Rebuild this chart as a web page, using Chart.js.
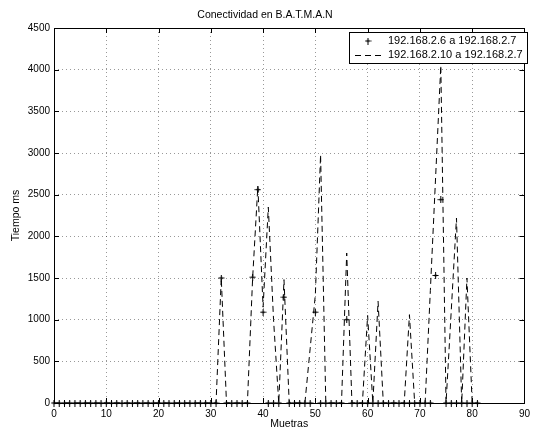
<!DOCTYPE html>
<html><head><meta charset="utf-8">
<script src="https://cdn.jsdelivr.net/npm/chart.js@4/dist/chart.umd.min.js"></script>
<style>html,body{margin:0;padding:0;background:#fff}#w{width:535px;height:428px;position:relative}</style>
</head><body><div id="w"><canvas id="c"></canvas></div>
<script>
// ---- data ----
const title = 'Conectividad en B.A.T.M.A.N';
const xLabel = 'Muetras';
const yLabel = 'Tiempo ms';
const seriesNames = ['192.168.2.6 a 192.168.2.7', '192.168.2.10 a 192.168.2.7'];
const samples = [0,1,2,3,4,5,6,7,8,9,10,11,12,13,14,15,16,17,18,19,20,21,22,23,24,25,26,27,28,29,
  30,31,32,33,34,35,36,37,38,39,40,41,42,43,44,45,46,47,48,49,50,51,52,53,54,55,56,57,58,59,
  60,61,62,63,64,65,66,67,68,69,70,71,72,73,74,75,76,77,78,79,80,81];
const link26 = [0,0,0,0,0,0,0,0,0,0,
  0,0,0,0,0,0,0,0,0,0,
  0,0,0,0,0,0,0,0,0,0,
  0,0,1500,0,0,0,0,0,1510,2560,
  1090,0,0,0,1270,0,0,0,0,0,
  1090,0,0,0,0,0,1000,0,0,0,
  0,0,0,0,0,0,0,0,0,0,
  0,0,0,1530,2440,0,0,0,0,0,
  0,0];
const link210 = [0,0,0,0,0,0,0,0,0,0,
  0,0,0,0,0,0,0,0,0,0,
  0,0,0,0,0,0,0,0,0,0,
  0,0,1500,0,0,0,0,0,1500,2600,
  1150,2350,1000,0,1480,0,0,0,0,650,
  1300,2980,0,0,0,0,1800,0,0,0,
  1050,0,1220,0,0,0,0,0,1060,0,
  0,0,1350,2700,4050,0,1110,2220,0,1500,
  0,0];
const xTicks = [0,10,20,30,40,50,60,70,80,90];
const yTicks = [0,500,1000,1500,2000,2500,3000,3500,4000,4500];

// ---- styling ----
const FONT = 'Liberation Sans, Arial, Helvetica, sans-serif';

function makeMarker() {
  const c = document.createElement('canvas');
  c.width = 7; c.height = 7;
  const g = c.getContext('2d');
  g.fillStyle = '#000'; g.strokeStyle = '#000';
  g.lineWidth = 1;
  g.beginPath(); g.moveTo(3.5, 0); g.lineTo(3.5, 7); g.moveTo(0.5, 3.5); g.lineTo(6.5, 3.5); g.stroke();
  g.beginPath(); g.moveTo(3.5, 1.8); g.lineTo(5.2, 3.5); g.lineTo(3.5, 5.2); g.lineTo(1.8, 3.5); g.closePath(); g.fill();
  return c;
}
const marker = makeMarker();

const frameTicks = {
  id: 'frameTicks',
  afterDraw(chart) {
    const {ctx, chartArea: a, scales: {x, y}} = chart;
    ctx.save();
    ctx.strokeStyle = '#000'; ctx.lineWidth = 1;
    const L = 5;
    ctx.beginPath();
    xTicks.forEach(v => {
      const px = Math.round(x.getPixelForValue(v)) + 0.5;
      ctx.moveTo(px, a.bottom); ctx.lineTo(px, a.bottom - L);
      ctx.moveTo(px, a.top); ctx.lineTo(px, a.top + L);
    });
    yTicks.forEach(v => {
      const py = Math.round(y.getPixelForValue(v)) + 0.5;
      ctx.moveTo(a.left, py); ctx.lineTo(a.left + L, py);
      ctx.moveTo(a.right, py); ctx.lineTo(a.right - L, py);
    });
    ctx.stroke();
    ctx.strokeRect(Math.round(a.left) + 0.5, Math.round(a.top) + 0.5, Math.round(a.right - a.left), Math.round(a.bottom - a.top));
    // legend
    const bx = 349.5, by = 32.5, bw = 178, bh = 31;
    ctx.fillStyle = '#fff';
    ctx.fillRect(bx, by, bw, bh);
    ctx.strokeRect(bx, by, bw, bh);
    ctx.font = '11px ' + FONT;
    ctx.fillStyle = '#000';
    ctx.textBaseline = 'middle';
    ctx.textAlign = 'left';
    const r1 = 41, r2 = 55;
    ctx.drawImage(marker, 368 - 3.5, r1 - 3.5);
    ctx.fillText(chart.data.datasets[0].label, 388, r1);
    ctx.setLineDash([6, 4]);
    ctx.beginPath(); ctx.moveTo(355, r2 + 0.5); ctx.lineTo(384, r2 + 0.5); ctx.stroke();
    ctx.setLineDash([]);
    ctx.fillText(chart.data.datasets[1].label, 388, r2);
    ctx.restore();
  }
};

new Chart(document.getElementById('c'), {
  type: 'line',
  data: {
    datasets: [
      {
        label: seriesNames[0],
        data: samples.map((s, i) => ({x: s, y: link26[i]})),
        showLine: false,
        pointStyle: marker,
        pointRadius: 3.5,
        borderColor: '#000',
        backgroundColor: '#000',
        clip: false,
        order: 0
      },
      {
        label: seriesNames[1],
        data: samples.map((s, i) => ({x: s, y: link210[i]})),
        borderColor: '#000',
        borderWidth: 1,
        borderDash: [6, 4],
        pointRadius: 0,
        tension: 0,
        fill: false,
        order: 1
      }
    ]
  },
  options: {
    responsive: true,
    maintainAspectRatio: false,
    animation: false,
    devicePixelRatio: 1,
    layout: {padding: {left: 0, right: 5, top: 0, bottom: 0}},
    plugins: {
      legend: {display: false},
      tooltip: {enabled: false},
      title: {
        display: true, text: title, color: '#000',
        font: {family: FONT, size: 10.5, weight: 'normal'},
        padding: {top: 9, bottom: 6.4}
      }
    },
    scales: {
      x: {
        type: 'linear', min: 0, max: 90,
        afterBuildTicks: s => { s.ticks = xTicks.map(v => ({value: v})); },
        afterFit: s => { s.height = 25; },
        grid: {color: 'rgba(0,0,0,0.4)', drawTicks: false},
        border: {display: false, dash: [1, 3]},
        ticks: {color: '#000', font: {family: FONT, size: 10}, padding: 5, maxRotation: 0, autoSkip: false,
          callback: v => String(v)},
        title: {display: true, text: xLabel, color: '#000', font: {family: FONT, size: 10.5}, padding: {top: 0, bottom: -2}}
      },
      y: {
        type: 'linear', min: 0, max: 4500,
        afterBuildTicks: s => { s.ticks = yTicks.map(v => ({value: v})); },
        afterFit: s => { s.width = 54; },
        grid: {color: 'rgba(0,0,0,0.4)', drawTicks: false},
        border: {display: false, dash: [1, 3]},
        ticks: {color: '#000', font: {family: FONT, size: 10}, padding: 4, autoSkip: false,
          callback: v => String(v)},
        title: {display: true, text: yLabel, color: '#000', font: {family: FONT, size: 10.5}, padding: {top: 9.7, bottom: 0}}
      }
    }
  },
  plugins: [frameTicks]
});
</script>
</body></html>
